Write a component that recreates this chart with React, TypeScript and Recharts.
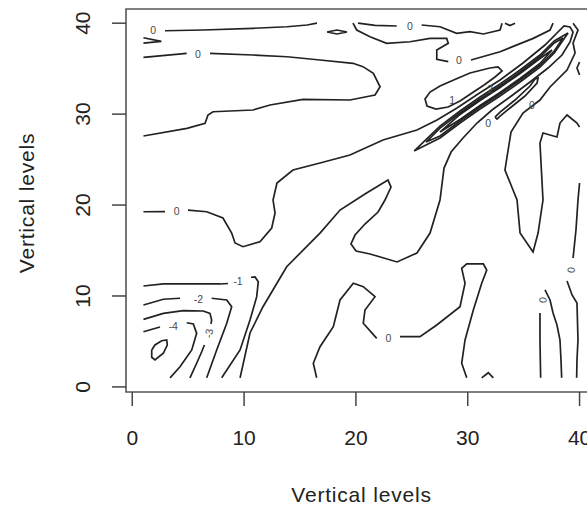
import { ComposedChart, Line, Scatter, XAxis, YAxis, ReferenceArea, Label } from 'recharts';

// contour paths, [level index x, level index y]
const topWedge = [[1, 38.4], [2.6, 38.0], [1, 37.8]];
const topLine = [[2.93, 39.17], [6.33, 39.25], [10.8, 39.44], [13.84, 39.61], [15.63, 39.8], [16.52, 40]];
const topBlob = [[17.42, 39.03], [18.31, 39.25], [19.2, 39.03], [18.31, 38.81], [17.42, 39.03]];
const ridgeA = [[19.74, 40], [20.07, 39.25], [21.26, 38.51], [22.75, 37.79], [24.84, 37.96], [26.63, 38.33], [28.12, 38.33], [28.26, 37.79], [27.23, 37.05], [27.23, 36.03], [28.26, 35.77]];
const ridgeB = [[30.29, 35.95], [32.89, 36.86], [35.86, 38.33], [37.36, 39.25], [37.63, 40]];
const capA = [[20.19, 40], [21.71, 39.75], [23.65, 39.69]];
const capB = [[25.88, 39.8], [27.52, 39.61], [29.01, 38.89], [30.2, 39.06], [31.4, 38.81], [32.89, 39.25], [33.07, 40]];
const capBlip = [[33.33, 40], [33.78, 39.75], [34.23, 40]];
const shelfA = [[1, 36.25], [4.87, 36.69]];
const shelfB = [
  [6.95, 36.69], [10.8, 36.5], [13.84, 36.31], [16.79, 35.95], [19.74, 35.59], [20.63, 35.22], [21.56, 34.49],
  [22.16, 33.01], [21.71, 32.1], [19.47, 31.55], [15.27, 31.63], [12.32, 31.0], [10.8, 30.45], [7.22, 30.26],
  [6.77, 29.9], [6.51, 28.98], [4.89, 28.44], [1, 27.59],
];
const zeroA = [[1, 19.26], [2.93, 19.28]];
const zeroB = [
  [4.98, 19.45], [6.66, 19.26], [8.11, 18.57], [8.89, 16.92], [9.19, 15.83], [9.9, 15.42], [11.42, 15.97],
  [12.47, 17.47], [12.77, 19.12], [12.59, 20.55], [12.94, 22.42], [14.37, 23.85], [16.79, 24.62], [19.47, 25.5],
  [22.42, 27.15], [25.46, 28.25], [27.25, 29.35], [29.04, 30.67], [30.92, 32.21], [32.89, 33.75], [34.94, 35.62],
  [36.91, 37.6], [38.07, 39.03], [38.61, 39.69], [39.15, 39.58], [39.42, 39.03], [39.15, 37.93], [38.43, 36.5],
  [37.18, 35.07], [35.57, 33.53], [33.78, 31.88], [32.17, 30.45], [30.83, 29.02], [29.58, 27.37], [28.51, 25.83],
  [27.88, 24.07], [27.52, 20.55], [26.63, 16.92], [25.46, 14.73], [23.68, 13.74], [21.26, 14.62], [20.01, 14.95],
  [19.56, 15.72], [19.92, 16.7], [20.81, 17.91], [21.98, 19.23], [22.6, 20.55], [23.14, 21.98], [22.87, 22.75],
  [20.81, 21.21], [18.58, 19.45], [16.79, 16.92], [13.81, 13.22], [11.69, 8.82], [10.53, 5.93], [9.64, 1],
];
const tongue = [
  [31.99, 35.07], [30.2, 34.52], [28.95, 33.86], [27.52, 33.09], [26.63, 32.43], [26.18, 31.66], [26.36, 30.89],
  [27.16, 30.56], [28.24, 30.78], [29.31, 31.44], [30.38, 32.32], [31.46, 33.2], [32.44, 34.08], [33.07, 34.74],
  [32.71, 35.18], [31.99, 35.07],
];
const ridgeOuter = [
  [25.2, 25.94], [27.52, 28.69], [29.31, 30.34], [31.1, 31.88], [32.89, 33.31], [34.68, 34.85], [36.46, 36.5],
  [37.74, 38.04], [38.97, 38.92], [37.74, 36.72], [36.46, 35.18], [34.68, 33.53], [32.89, 31.99], [31.1, 30.56],
  [29.31, 29.02], [27.52, 27.37], [25.2, 25.94],
];
const ridgeMid = [
  [26.27, 26.93], [27.52, 28.47], [29.31, 30.12], [31.1, 31.66], [32.89, 33.09], [34.68, 34.63], [36.46, 36.28],
  [37.74, 37.82], [38.52, 38.37], [37.74, 36.94], [36.46, 35.4], [34.68, 33.75], [32.89, 32.21], [31.1, 30.78],
  [29.31, 29.24], [27.52, 27.59], [26.27, 26.93],
];
const ridgeCore = [
  [27.52, 28.03], [29.31, 29.96], [31.1, 31.5], [32.89, 32.93], [34.68, 34.47], [36.46, 36.12], [37.54, 37.05],
  [36.46, 35.57], [34.68, 33.92], [32.89, 32.38], [31.1, 30.95], [29.31, 29.41], [27.52, 28.03],
];
const sliver = [
  [32.44, 29.68], [32.89, 30.23], [34.23, 31.55], [35.57, 33.09], [36.02, 33.86], [36.29, 33.97], [36.2, 33.42],
  [35.12, 31.99], [33.78, 30.67], [32.89, 29.79], [32.62, 29.46], [32.44, 29.68],
];
const eastTrough = [
  [39.42, 40], [39.86, 39.25], [39.42, 37.82], [39.6, 36.72], [38.88, 34.85], [37.36, 32.98], [36.46, 31.55],
  [34.94, 30.12], [33.87, 28.03], [33.51, 25.28], [33.33, 23.85], [34.05, 21.65], [34.41, 20.55], [34.68, 16.92],
  [35.84, 14.84], [36.29, 16.92], [36.73, 20.55], [36.46, 26.82], [36.73, 27.92], [37.98, 27.48], [38.25, 29.02],
  [38.88, 29.9], [39.77, 29.02], [40, 28.58],
];
const edgeNick = [[40, 35.73], [39.77, 35.07], [40, 34.3]];
const edgeA = [[40, 22.42], [39.86, 20.55], [39.68, 17.25], [39.42, 14.18]];
const edgeB = [[38.88, 11.65], [39.33, 10.11], [39.77, 9.23], [39.86, 5.16], [39.77, 2.96], [39.74, 1]];
const archA = [[36.52, 1], [36.46, 5.16], [36.46, 8.13]];
const archB = [[36.91, 10.66], [37.36, 9.56], [37.63, 8.13], [37.98, 6.81], [38.25, 5.16], [38.34, 2.96], [38.4, 1]];
const basinA = [
  [16.49, 1], [16.19, 2.6], [16.79, 4.42], [17.98, 6.62], [18.58, 9.56], [19.77, 11.4], [20.66, 11.02],
  [21.71, 9.92], [20.81, 8.46], [20.66, 7.0], [21.86, 5.34],
];
const basinB = [
  [23.94, 5.52], [25.73, 5.52], [27.23, 6.81], [29.31, 8.82], [29.76, 11.4], [29.46, 13.04], [29.91, 13.52],
  [31.4, 13.52], [31.7, 12.86], [31.25, 11.4], [30.5, 8.46], [29.76, 5.16], [29.46, 2.6], [29.91, 1],
];
const basinNub = [[31.25, 1], [31.84, 1.56], [32.29, 1]];
const minus1A = [[1, 11.1], [2.78, 11.32], [7.85, 11.32], [8.56, 11.37]];
const minus1B = [[10.62, 12.06], [10.98, 12.09], [11.27, 11.57], [11.13, 9.92], [10.53, 7.36], [9.64, 4.06], [8.0, 1]];
const minus2A = [[1, 9.01], [2.78, 9.64], [4.27, 9.75]];
const minus2B = [[7.1, 9.75], [8.45, 9.56], [8.89, 8.82], [8.45, 7.0], [7.55, 4.06], [6.66, 1]];
const minus3A = [[1, 7.43], [2.78, 8.09], [4.56, 8.38], [6.35, 8.35], [6.95, 8.09], [7.1, 7.36], [7.04, 6.92]];
const minus3B = [[6.45, 4.61], [6.21, 3.87], [5.76, 2.6], [5.16, 1]];
const minus4A = [[1, 6.07], [2.48, 6.59]];
const minus4B = [[4.87, 7.06], [5.46, 6.92], [5.76, 5.89], [5.32, 4.06], [4.27, 2.22], [3.38, 1]];
const minus5 = [[1.74, 4.06], [2.03, 4.61], [2.63, 5.08], [3.08, 5.16], [3.13, 4.61], [2.78, 3.7], [2.03, 2.96], [1.74, 3.26], [1.74, 4.06]];

const contours = [
  topWedge, topLine, topBlob, ridgeA, ridgeB, capA, capB, capBlip, shelfA, shelfB, zeroA, zeroB, tongue,
  ridgeOuter, ridgeMid, ridgeCore, sliver, eastTrough, edgeNick, edgeA, edgeB, archA, archB, basinA, basinB,
  basinNub, minus1A, minus1B, minus2A, minus2B, minus3A, minus3B, minus4A, minus4B, minus5,
];

// in-line level labels
const flatLabels = [
  { x: 1.86, y: 39.25, text: '0' },
  { x: 5.88, y: 36.61, text: '0' },
  { x: 24.84, y: 39.61, text: '0' },
  { x: 29.21, y: 35.95, text: '0' },
  { x: 3.97, y: 19.34, text: '0' },
  { x: 22.9, y: 5.34, text: '0' },
  { x: 31.82, y: 29.02, text: '0' },
  { x: 35.75, y: 31.0, text: '0' },
  { x: 28.6, y: 31.5, text: '1' },
  { x: 32.0, y: 32.7, text: '2' },
  { x: 9.46, y: 11.59, text: '-1' },
  { x: 5.91, y: 9.64, text: '-2' },
  { x: 3.67, y: 6.7, text: '-4' },
];
const uprightLabels = [
  { x: 6.85, y: 5.89, text: '-3' },
  { x: 36.73, y: 9.56, text: '0' },
  { x: 39.24, y: 12.86, text: '0' },
];

const axisTicks = [0, 10, 20, 30, 40];
const span: [number, number] = [-0.56, 41.56];

const FONT = '"Liberation Sans", Arial, sans-serif';
const INK = '#222';
const LABEL_INK = '#4a4a4a';

const toPts = (a: number[][]) => a.map(([x, y]) => ({ x, y }));

const FlatLabel = (props: any) => {
  const { cx, cy, payload } = props;
  return (
    <text x={cx} y={cy} dy="0.35em" textAnchor="middle" fontSize={10.5} fontFamily={FONT}
      fill={LABEL_INK} stroke="none">
      {payload.text}
    </text>
  );
};

const UprightLabel = (props: any) => {
  const { cx, cy, payload } = props;
  return (
    <text x={cx} y={cy} dy="0.35em" textAnchor="middle" fontSize={10.5} fontFamily={FONT}
      fill={LABEL_INK} stroke="none" transform={`rotate(-80 ${cx} ${cy})`}>
      {payload.text}
    </text>
  );
};

const XTick = ({ x, y, payload }: any) => (
  <text x={x} y={y} textAnchor="middle" fontSize={21} fontFamily={FONT} fill={INK}>
    {payload.value}
  </text>
);

const YTick = ({ x, y, payload }: any) => (
  <text x={x} y={y} textAnchor="middle" fontSize={21} fontFamily={FONT} fill={INK}
    transform={`rotate(-90 ${x} ${y})`}>
    {payload.value}
  </text>
);

const XTitle = ({ viewBox }: any) => (
  <text x={viewBox.x + viewBox.width / 2} y={viewBox.y + 109.5} textAnchor="middle" fontSize={21}
    fontFamily={FONT} fill={INK} letterSpacing={0.8}>
    Vertical levels
  </text>
);

const YTitle = ({ viewBox }: any) => {
  const cx = viewBox.x + 34;
  const cy = viewBox.y + viewBox.height / 2 + 2.5;
  return (
    <text x={cx} y={cy} textAnchor="middle" fontSize={21} fontFamily={FONT} fill={INK} letterSpacing={0.8}
      transform={`rotate(-90 ${cx} ${cy})`}>
      Vertical levels
    </text>
  );
};

export default function App() {
  return (
    <div style={{ position: 'absolute', left: 0, top: 0, width: 587, height: 506, overflow: 'hidden', background: '#fff' }}>
      <ComposedChart width={600} height={506} margin={{ top: 9, right: 3, bottom: 0, left: 0 }}>
        <XAxis type="number" dataKey="x" domain={span} ticks={axisTicks} allowDataOverflow height={114}
          axisLine={false} tickSize={14} tickMargin={39} tickLine={{ stroke: '#444', strokeWidth: 1.5 }} tick={<XTick />}>
          <Label content={<XTitle />} />
        </XAxis>
        <YAxis type="number" dataKey="y" domain={span} ticks={axisTicks} allowDataOverflow width={126}
          axisLine={false} tickSize={14} tickMargin={22} tickLine={{ stroke: '#444', strokeWidth: 1.5 }} tick={<YTick />}>
          <Label content={<YTitle />} />
        </YAxis>
        <ReferenceArea x1={span[0]} x2={span[1]} y1={span[0]} y2={span[1]} fill="none" fillOpacity={0}
          stroke="#555" strokeWidth={1.6} ifOverflow="visible" />
        {contours.map((c, i) => (
          <Line key={i} data={toPts(c)} dataKey="y" type="linear" stroke={INK} strokeWidth={1.7}
            dot={false} activeDot={false} isAnimationActive={false} />
        ))}
        <Scatter data={flatLabels} shape={<FlatLabel />} isAnimationActive={false} />
        <Scatter data={uprightLabels} shape={<UprightLabel />} isAnimationActive={false} />
      </ComposedChart>
    </div>
  );
}
